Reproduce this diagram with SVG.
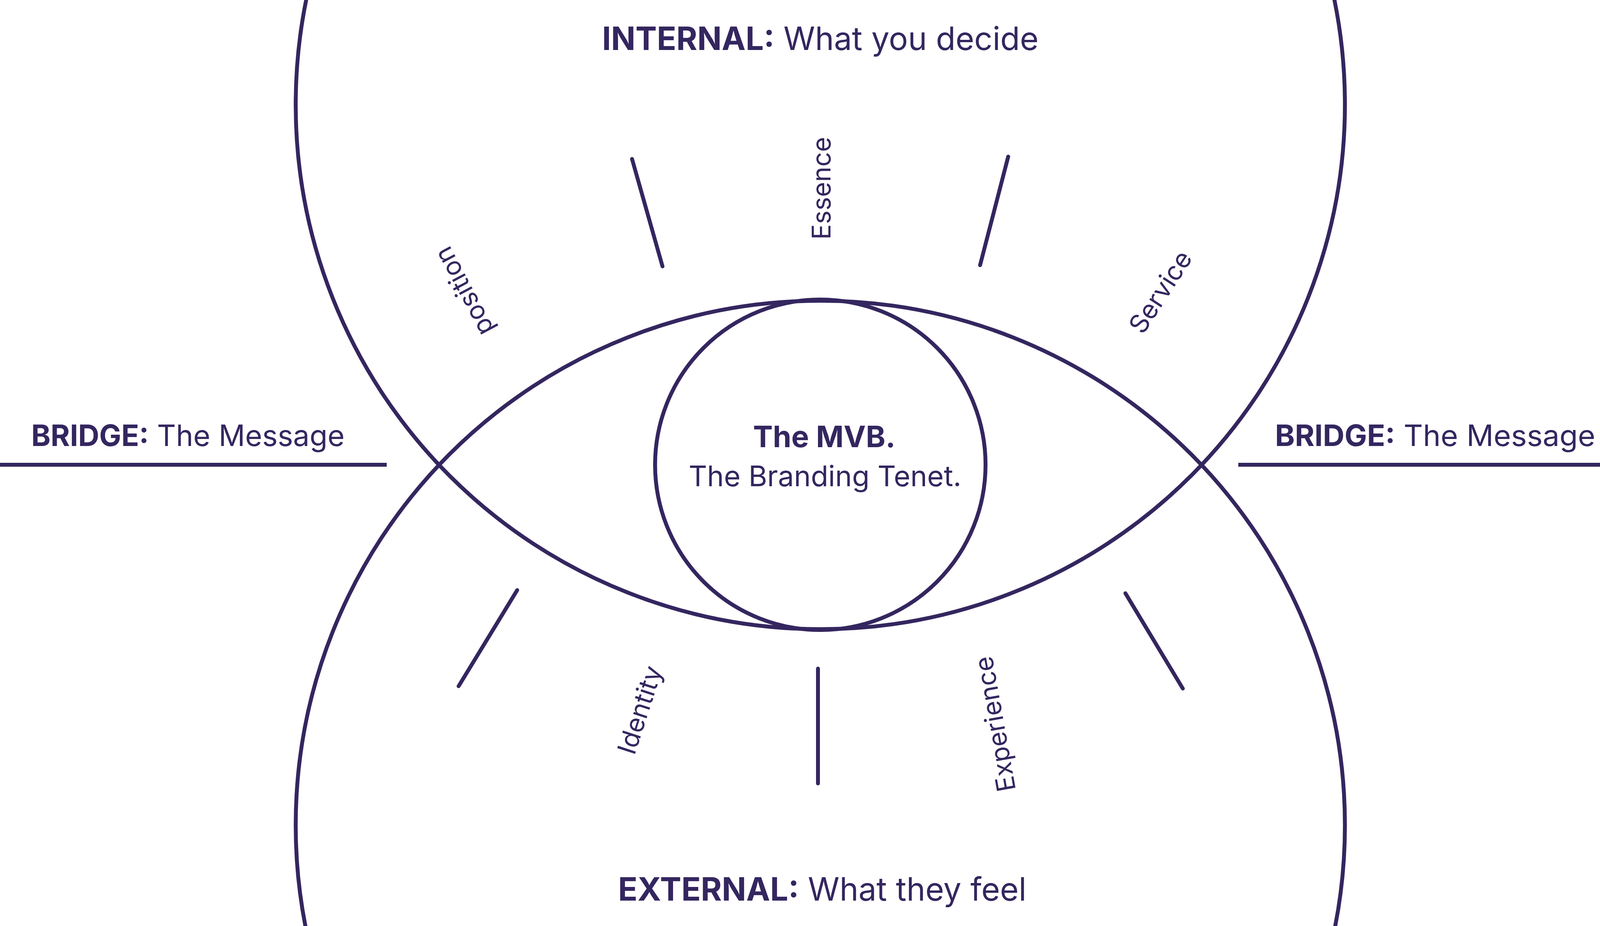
<svg xmlns="http://www.w3.org/2000/svg" width="4185" height="2371" viewBox="0 0 4185 2371">
<style>
.s{fill:none;stroke:#34265f;stroke-width:10;stroke-linecap:round}
text{fill:#34265f;font-family:Inter,"Liberation Sans",sans-serif;font-weight:400}
.b{font-weight:700}
.h{font-size:82px}
.l{font-size:66px;text-anchor:middle}
</style>
<rect width="4185" height="2371" fill="#fff"/>
<g id="connectors">
<circle id="internal" class="s" cx="2100" cy="268" r="1343"/>
<circle id="external" class="s" cx="2100" cy="2113" r="1343"/>
<line class="s" x1="0" y1="1190" x2="990" y2="1190" style="stroke-linecap:butt"/>
<line class="s" x1="3170" y1="1190" x2="4185" y2="1190" style="stroke-linecap:butt"/>
<line class="s" x1="1618" y1="407" x2="1696" y2="682"/>
<line class="s" x1="2581" y1="401" x2="2509" y2="679"/>
<line class="s" x1="1324" y1="1511" x2="1174" y2="1757"/>
<line class="s" x1="2094" y1="1712" x2="2094" y2="2006"/>
<line class="s" x1="2881" y1="1519" x2="3028" y2="1763"/>
</g>
<g id="center"><circle class="s" cx="2100" cy="1190" r="423"/>
<text x="2110" y="1145" font-size="76" text-anchor="middle" class="b">The MVB.</text>
<text x="2112" y="1245" font-size="73" text-anchor="middle">The Branding Tenet.</text></g>
<g id="titles">
<text class="h" x="2100" y="128" text-anchor="middle"><tspan class="b">INTERNAL:</tspan> What you decide</text>
<text class="h" x="2105" y="2306" text-anchor="middle"><tspan class="b">EXTERNAL:</tspan> What they feel</text>
<text x="80" y="1142" font-size="75"><tspan class="b">BRIDGE:</tspan> The Message</text>
<text x="3264" y="1142" font-size="75" text-anchor="start" textLength="820" lengthAdjust="spacingAndGlyphs"><tspan class="b">BRIDGE:</tspan> The Message</text>
</g>
<g id="labels">
<text class="l" transform="translate(2126,482) rotate(-90)">Essence</text>
<text class="l" transform="translate(1208,735) rotate(-118)">position</text>
<text class="l" transform="translate(2990,760) rotate(-57)">Service</text>
<text class="l" transform="translate(1660,1825) rotate(-72)">Identity</text>
<text class="l" transform="translate(2570,1850) rotate(-100)">Experience</text>
</g>
</svg>
